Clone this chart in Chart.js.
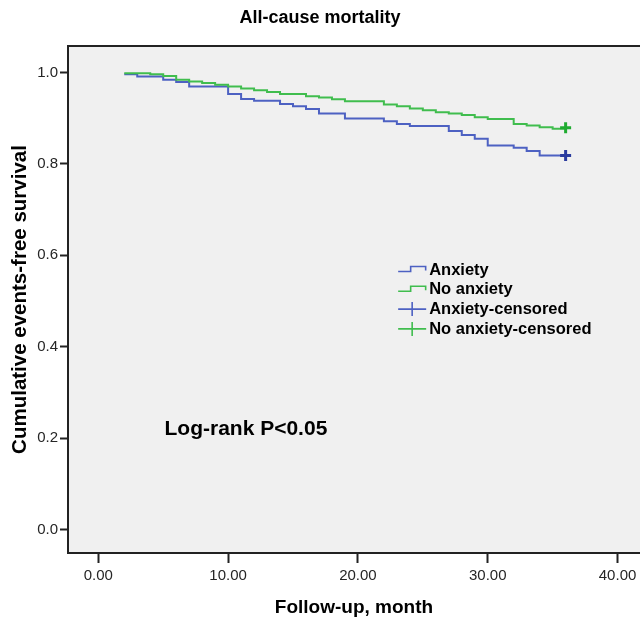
<!DOCTYPE html>
<html>
<head>
<meta charset="utf-8">
<script src="https://cdn.jsdelivr.net/npm/chart.js@4/dist/chart.umd.min.js"></script>
<style>
html,body{margin:0;padding:0;background:#fff;}
#wrap{width:640px;height:619px;position:relative;}
</style>
</head>
<body>
<div id="wrap"><canvas id="c" width="640" height="619"></canvas></div>
<script>
// ---- data ----
const xTickValues = [0, 10, 20, 30, 40];
const yTickValues = [0, 0.2, 0.4, 0.6, 0.8, 1.0];

const anxietyMonths   = [2, 3, 5, 6, 7, 10, 11, 12, 14, 15, 16, 17, 19, 22, 23, 24, 27, 28, 29, 30, 32, 33, 34, 36];
const anxietySurvival = [0.996, 0.991, 0.984, 0.979, 0.969, 0.953, 0.942, 0.938, 0.931, 0.926, 0.920, 0.910, 0.899, 0.893, 0.887, 0.883, 0.872, 0.863, 0.855, 0.840, 0.835, 0.828, 0.818, 0.818];

const noAnxietyMonths   = [2, 4, 5, 6, 7, 8, 9, 10, 11, 12, 13, 14, 16, 17, 18, 19, 22, 23, 24, 25, 26, 27, 28, 29, 30, 32, 33, 34, 35, 36];
const noAnxietySurvival = [0.998, 0.996, 0.992, 0.984, 0.980, 0.977, 0.973, 0.969, 0.965, 0.961, 0.957, 0.953, 0.948, 0.945, 0.941, 0.937, 0.930, 0.926, 0.921, 0.917, 0.913, 0.910, 0.907, 0.902, 0.898, 0.887, 0.884, 0.880, 0.877, 0.877];

const anxietyCensoredMonths = [36];
const anxietyCensoredSurvival = [0.818];
const noAnxietyCensoredMonths = [36];
const noAnxietyCensoredSurvival = [0.879];

const seriesLabels = ['Anxiety', 'No anxiety', 'Anxiety-censored', 'No anxiety-censored'];
const annotationText = 'Log-rank P<0.05';

// ---- styling ----
const FONT = "'Liberation Sans', Arial, sans-serif";
const BLUE = '#4d61c2';
const GREEN = '#40bd4e';
const BLUE_MARK = '#2b3c9e';
const GREEN_MARK = '#1fab30';

const toPoints = (xs, ys) => xs.map((x, i) => ({x: x, y: ys[i]}));

const plotFrame = {
  id: 'plotFrame',
  beforeDraw(chart) {
    const {ctx, chartArea: a} = chart;
    ctx.save();
    ctx.fillStyle = '#f0f0f0';
    ctx.fillRect(a.left, a.top, a.right - a.left, a.bottom - a.top);
    ctx.restore();
  },
  afterDraw(chart) {
    const {ctx, chartArea: a} = chart;
    ctx.save();
    ctx.strokeStyle = '#222';
    ctx.lineWidth = 2;
    ctx.beginPath();
    ctx.moveTo(a.left - 1, a.top);
    ctx.lineTo(a.right, a.top);
    ctx.stroke();
    ctx.restore();
  }
};

const kmLegend = {
  id: 'kmLegend',
  afterDraw(chart) {
    const {ctx} = chart;
    const xs = chart.scales.x, ys = chart.scales.y;
    const x0 = xs.getPixelForValue(23.1);
    const yStart = ys.getPixelForValue(0.569);
    const rowH = 19.8;
    const colors = [BLUE, GREEN, BLUE, GREEN];
    ctx.save();
    ctx.lineWidth = 1.6;
    seriesLabels.forEach((lab, i) => {
      const yc = yStart + i * rowH;
      ctx.strokeStyle = colors[i];
      ctx.beginPath();
      if (i < 2) {
        ctx.moveTo(x0, yc + 2);
        ctx.lineTo(x0 + 12.5, yc + 2);
        ctx.lineTo(x0 + 12.5, yc - 3);
        ctx.lineTo(x0 + 27.5, yc - 3);
        ctx.lineTo(x0 + 27.5, yc + 1);
      } else {
        ctx.moveTo(x0, yc);
        ctx.lineTo(x0 + 28, yc);
        ctx.moveTo(x0 + 14, yc - 7);
        ctx.lineTo(x0 + 14, yc + 7);
      }
      ctx.stroke();
      ctx.fillStyle = '#000';
      ctx.font = 'bold 16.5px ' + FONT;
      ctx.textAlign = 'left';
      ctx.textBaseline = 'middle';
      ctx.fillText(lab, x0 + 31, yc + 0.5);
    });
    // log-rank annotation
    ctx.font = 'bold 21px ' + FONT;
    ctx.fillStyle = '#000';
    ctx.textBaseline = 'middle';
    ctx.fillText(annotationText, xs.getPixelForValue(5.1), ys.getPixelForValue(0.22));
    ctx.restore();
  }
};

new Chart(document.getElementById('c'), {
  type: 'line',
  data: {
    datasets: [
      {
        label: seriesLabels[0],
        data: toPoints(anxietyMonths, anxietySurvival),
        stepped: 'before',
        borderColor: BLUE,
        borderWidth: 2,
        pointRadius: 0,
        fill: false,
        order: 2
      },
      {
        label: seriesLabels[1],
        data: toPoints(noAnxietyMonths, noAnxietySurvival),
        stepped: 'before',
        borderColor: GREEN,
        borderWidth: 2,
        pointRadius: 0,
        fill: false,
        order: 1
      },
      {
        label: seriesLabels[2],
        data: toPoints(anxietyCensoredMonths, anxietyCensoredSurvival),
        showLine: false,
        pointStyle: 'cross',
        pointRadius: 5.5,
        pointBorderWidth: 3,
        borderColor: BLUE_MARK,
        backgroundColor: BLUE_MARK,
        order: 0
      },
      {
        label: seriesLabels[3],
        data: toPoints(noAnxietyCensoredMonths, noAnxietyCensoredSurvival),
        showLine: false,
        pointStyle: 'cross',
        pointRadius: 5.5,
        pointBorderWidth: 3,
        borderColor: GREEN_MARK,
        backgroundColor: GREEN_MARK,
        order: 0
      }
    ]
  },
  options: {
    responsive: false,
    animation: false,
    devicePixelRatio: 1,
    layout: {autoPadding: false, padding: {left: 0, right: 0, top: 0, bottom: 0}},
    plugins: {
      legend: {display: false},
      tooltip: {enabled: false},
      title: {
        display: true,
        text: 'All-cause mortality',
        color: '#000',
        font: {family: FONT, size: 18, weight: 'bold', lineHeight: 1.2},
        padding: {top: 7.5, bottom: 16.9}
      }
    },
    scales: {
      x: {
        type: 'linear',
        min: -2.334,
        max: 41.73,
        afterBuildTicks: (s) => { s.ticks = xTickValues.map(v => ({value: v})); },
        afterFit: (s) => { s.height = 66; s.paddingLeft = 0; s.paddingRight = 0; },
        border: {display: true, color: '#222', width: 2},
        grid: {display: true, drawOnChartArea: false, drawTicks: true, tickLength: 10, color: '#222', tickWidth: 2},
        ticks: {
          padding: 4,
          color: '#262626',
          font: {family: FONT, size: 15},
          maxRotation: 0,
          autoSkip: false,
          callback: (v) => Number(v).toFixed(2)
        },
        title: {
          display: true,
          text: 'Follow-up, month',
          color: '#000',
          font: {family: FONT, size: 19, weight: 'bold', lineHeight: 1.2},
          padding: {top: 0, bottom: 0}
        }
      },
      y: {
        type: 'linear',
        min: -0.051,
        max: 1.0577,
        afterBuildTicks: (s) => { s.ticks = yTickValues.map(v => ({value: v})); },
        afterFit: (s) => { s.width = 68; s.paddingTop = 0; s.paddingBottom = 0; },
        border: {display: true, color: '#222', width: 2},
        grid: {display: true, drawOnChartArea: false, drawTicks: true, tickLength: 8, color: '#222', tickWidth: 2},
        ticks: {
          padding: 2,
          color: '#262626',
          font: {family: FONT, size: 15},
          autoSkip: false,
          callback: (v) => Number(v).toFixed(1)
        },
        title: {
          display: true,
          text: 'Cumulative events-free survival',
          color: '#000',
          font: {family: FONT, size: 20.5, weight: 'bold', lineHeight: 1.2},
          padding: {top: 8, bottom: 0}
        }
      }
    }
  },
  plugins: [plotFrame, kmLegend]
});
</script>
</body>
</html>
